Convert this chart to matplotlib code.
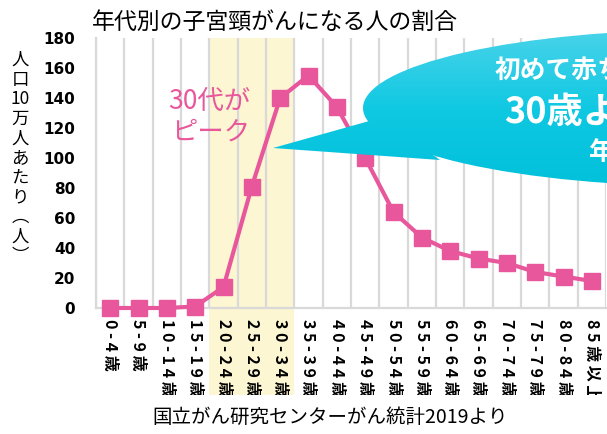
import numpy as np
import matplotlib
matplotlib.use("Agg")
import matplotlib.pyplot as plt
from matplotlib.patches import Ellipse, Polygon, Rectangle
from matplotlib.colors import LinearSegmentedColormap

JP = ['Noto Sans CJK JP', 'DejaVu Sans']
plt.rcParams['font.family'] = JP

# data
ages = ['0 - 4 歳', '5 - 9 歳', '1 0 - 1 4 歳', '1 5 - 1 9 歳', '2 0 - 2 4 歳',
        '2 5 - 2 9 歳', '3 0 - 3 4 歳', '3 5 - 3 9 歳', '4 0 - 4 4 歳',
        '4 5 - 4 9 歳', '5 0 - 5 4 歳', '5 5 - 5 9 歳', '6 0 - 6 4 歳',
        '6 5 - 6 9 歳', '7 0 - 7 4 歳', '7 5 - 7 9 歳', '8 0 - 8 4 歳',
        '8 5 歳 以 上']
rate = [0, 0, 0, 1, 14, 81, 140, 155, 134, 100, 64, 47, 38, 33, 30, 24, 21, 18]
yticks = [0, 20, 40, 60, 80, 100, 120, 140, 160, 180]
peak_first, peak_last = 4, 6   # 20-24 .. 30-34 highlighted

title = '年代別の子宮頸がんになる人の割合'
ylab = ['人', '口', '10', '万', '人', 'あ', 'た', 'り', '︵', '人', '︶']
source = '国立がん研究センターがん統計2019より'
note = ['30代が', 'ピーク']
bubble_lines = ['初めて赤ちゃんを産む', '30歳より上の', '年齢']

PINK = '#e8579b'
GRID = '#d9d9d9'

W, H = 607, 434
fig = plt.figure(figsize=(W / 100, H / 100), dpi=100)
ax = fig.add_axes([96 / W, 1 - 308 / H, 510 / W, 270 / H])

x = np.arange(len(rate))
ax.set_xlim(-0.5, len(rate) - 0.5)
ax.set_ylim(0, 180)

# highlight band (runs down through the tick labels)
band = Rectangle((peak_first - 0.5, -0.322), peak_last - peak_first + 1, 1.322,
                 transform=ax.get_xaxis_transform(), facecolor='#fdf6d2',
                 edgecolor='none', zorder=0, clip_on=False)
ax.add_patch(band)

for b in np.arange(-0.5, len(rate), 1.0):
    ax.axvline(b, color=GRID, lw=1.6, zorder=1)

ax.plot(x, rate, color=PINK, lw=3, marker='s', ms=11, mec=PINK, mfc=PINK,
        zorder=3, clip_on=False)

for s in ['top', 'right']:
    ax.spines[s].set_visible(False)
for s in ['left', 'bottom']:
    ax.spines[s].set_color(GRID)
    ax.spines[s].set_linewidth(1.6)
ax.set_axisbelow(True)

ax.set_yticks(yticks)
ax.set_yticklabels([str(v) for v in yticks], fontfamily='DejaVu Sans',
                   fontweight='bold', fontsize=11)
ax.tick_params(axis='y', length=0, pad=15)
ax.set_xticks(x)
ax.set_xticklabels(ages, rotation=-90, fontsize=11.5, fontweight='bold',
                   va='top', ha='center')
ax.tick_params(axis='x', length=0, pad=8)

# title and y label
fig.text(92 / W, 1 - 22 / H, title, fontsize=16.5, ha='left', va='center')
for i, ch in enumerate(ylab):
    fig.text(20 / W, 1 - (60 + i * 19.6) / H, ch, fontsize=12.5,
             ha='center', va='center')

# overlay in pixel coordinates for the annotations
ov = fig.add_axes([0, 0, 1, 1], zorder=5)
ov.set_xlim(0, W)
ov.set_ylim(H, 0)
ov.axis('off')

ov.text(250, 101, note[0], color=PINK, fontsize=19, ha='right', va='center')
ov.text(250, 132, note[1], color=PINK, fontsize=19, ha='right', va='center')

# speech bubble
grad = np.linspace(0, 1, 200).reshape(-1, 1)
cmap = LinearSegmentedColormap.from_list('cy', ['#4cd4ea', '#0fc8e2', '#00c0da'])
shapes = [Ellipse((709, 108), 692, 157),
          Polygon([(273, 148), (380, 118), (440, 160)], closed=True)]
for shp in shapes:
    shp.set_facecolor('none')
    shp.set_edgecolor('none')
    ov.add_patch(shp)
    im = ov.imshow(grad, extent=(0, W, 195, 25), cmap=cmap, aspect='auto',
                   interpolation='bilinear')
    im.set_clip_path(shp)
ov.set_xlim(0, W)
ov.set_ylim(H, 0)

ov.text(495, 71, bubble_lines[0], color='white', fontsize=18.5,
        fontweight='bold', ha='left', va='center')
ov.text(504, 113, bubble_lines[1], color='white', fontsize=26,
        fontweight='bold', ha='left', va='center')
ov.text(588, 152, bubble_lines[2], color='white', fontsize=18.5,
        fontweight='bold', ha='left', va='center')

# white strip hiding the clipped tick labels, then the source line
fig.patches.append(Rectangle((0, 0), 1, 1 - 395 / H, transform=fig.transFigure,
                             facecolor='white', edgecolor='none', zorder=10))
fig.text(330 / W, 1 - 417 / H, source, fontsize=14, ha='center', va='center',
         zorder=11)

fig.savefig('out.png', dpi=100)
